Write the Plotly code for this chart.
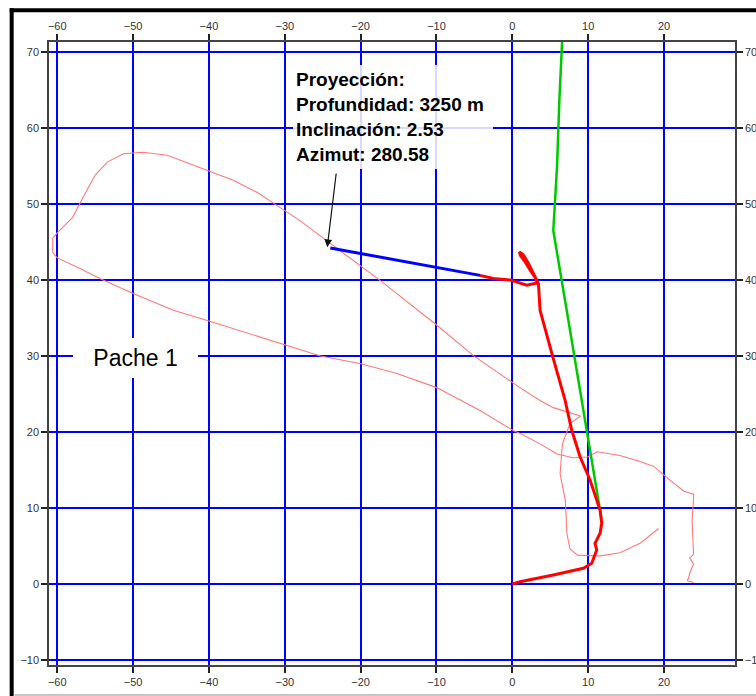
import plotly.graph_objects as go

# ---- data ----
thin_x = [19.3, 16.9, 14.2, 11.6, 8.6, 7.6, 7.2, 7.0, 6.3, 6.6, 7.6, 9.0, 5.4, 3.7, 1.05, -5.1, -9.9,
          -17.4, -24.0, -28.0, -31.5, -33.6, -36.8, -40.2, -42.9, -45.5, -48.7, -51.3, -53.4, -55.0,
          -56.1, -57.0, -58.0, -60.0, -60.6, -60.6, -60.0, -57.0, -54.4, -50.0, -44.7, -40.0, -30.6,
          -25.3, -20.1, -15.2, -9.9, -4.2, 0.1, 1.05, 3.7, 5.9, 8.0, 9.9, 11.2, 14.2, 16.5, 18.6,
          20.4, 22.6, 23.9, 23.9, 23.7, 23.8, 23.9, 23.4, 23.9, 23.5, 23.1, 23.9]
thin_y = [7.3, 5.4, 4.1, 3.7, 3.8, 4.6, 6.6, 10.9, 14.5, 18.4, 21.1, 22.1, 23.2, 24.1, 25.8, 30.0, 34.0,
          39.9, 44.8, 47.8, 50.1, 51.5, 53.1, 54.4, 55.5, 56.4, 56.8, 56.6, 55.5, 53.8,
          51.8, 50.1, 48.2, 46.2, 45.5, 43.6, 42.9, 41.5, 40.2, 38.2, 36.0, 34.6, 31.6,
          30.0, 29.0, 27.7, 25.8, 22.8, 20.2, 19.8, 18.4, 17.1, 16.6, 16.7, 17.4, 16.9, 16.2, 15.5,
          14.0, 12.2, 11.8, 11.3, 8.3, 5.0, 3.9, 3.4, 2.6, 1.7, 0.4, 0.2]

red_x = [0.0, 1.02, 5.41, 9.37, 10.47, 11.13, 10.9, 11.57, 11.79, 11.57, 10.25, 8.93, 7.83, 6.95,
         5.3, 3.66, 3.44, 2.78, 2.12, 1.46, 0.93, 1.11, 1.68, 2.34, 3.0, 3.3, 1.9, -0.3, -2.5, -4.25]
red_y = [0.0, 0.3, 1.18, 2.06, 2.72, 4.47, 5.35, 6.67, 7.98, 9.73, 13.68, 16.74, 20.25, 24.2,
         30.0, 36.0, 39.54, 40.86, 42.17, 43.27, 43.7, 43.13, 42.4, 41.3, 40.33, 39.6, 39.3, 40.0, 40.2, 40.6]

blue_x = [-24.0, -4.25]
blue_y = [44.2, 40.6]

green_x = [6.56, 6.2, 5.9, 5.4, 7.17, 9.2, 11.75]
green_y = [71.3, 63.6, 55.0, 46.5, 36.0, 24.0, 8.6]

x_ticks = [-60, -50, -40, -30, -20, -10, 0, 10, 20]
y_ticks = [-10, 0, 10, 20, 30, 40, 50, 60, 70]

label_text = "Pache 1"
proj_lines = ["Proyección:", "Profundidad: 3250 m", "Inclinación: 2.53", "Azimut: 280.58"]

XR = [-61.09, 29.36]
YR = [-10.66, 71.3]

fig = go.Figure()
fig.add_trace(go.Scatter(x=thin_x, y=thin_y, mode="lines",
                         line=dict(color="#FF7878", width=1.1), hoverinfo="skip"))
fig.add_trace(go.Scatter(x=green_x, y=green_y, mode="lines",
                         line=dict(color="#00C800", width=2.5), hoverinfo="skip"))
fig.add_trace(go.Scatter(x=red_x, y=red_y, mode="lines",
                         line=dict(color="#FF0000", width=3), hoverinfo="skip"))
fig.add_trace(go.Scatter(x=blue_x, y=blue_y, mode="lines",
                         line=dict(color="#0000FF", width=3), hoverinfo="skip"))
# invisible trace to carry the top/right axes
fig.add_trace(go.Scatter(x=[XR[0]], y=[YR[0]], xaxis="x2", yaxis="y2", mode="markers",
                         marker=dict(opacity=0), hoverinfo="skip"))

tickfont = dict(family="Liberation Sans, Arial, sans-serif", size=11, color="#333333")
common = dict(tickmode="array", ticks="outside", ticklen=6, tickwidth=1.5, tickcolor="#222222",
              showline=True, linecolor="#444444", linewidth=1.5, zeroline=False, tickfont=tickfont,
              automargin=False)

fig.update_layout(
    width=756, height=696,
    margin=dict(l=49, r=21, t=42, b=31, autoexpand=False),
    paper_bgcolor="white", plot_bgcolor="white",
    showlegend=False,
    xaxis=dict(range=XR, tickvals=x_ticks, showgrid=True, gridcolor="#0000FF", gridwidth=2, **common),
    yaxis=dict(range=YR, tickvals=y_ticks, showgrid=True, gridcolor="#0000FF", gridwidth=2, **common),
    xaxis2=dict(range=XR, tickvals=x_ticks, overlaying="x", side="top", anchor="y", showgrid=False, **common),
    yaxis2=dict(range=YR, tickvals=y_ticks, overlaying="y", side="right", anchor="x", showgrid=False, **common),
)

# page border lines (left/top thick black, bottom thin gray)
fig.add_shape(type="line", xref="paper", yref="paper", x0=-0.0544, x1=-0.0544, y0=1.054, y1=-0.05,
              line=dict(color="black", width=4))
fig.add_shape(type="line", xref="paper", yref="paper", x0=-0.0573, x1=1.04, y0=1.0509, y1=1.0509,
              line=dict(color="black", width=4))
fig.add_shape(type="line", xref="paper", yref="paper", x0=-0.05, x1=1.04, y0=-0.0481, y1=-0.0481,
              line=dict(color="#888888", width=1))

# Pache 1 label
fig.add_annotation(x=-49.7, y=29.72, xref="x", yref="y", text=label_text, showarrow=False,
                   font=dict(family="Liberation Sans, Arial, sans-serif", size=23, color="black"),
                   bgcolor="white", width=123, height=38, borderpad=1, borderwidth=0)

# projection text
fig.add_annotation(x=-28.9, y=68.3, xref="x", yref="y", xanchor="left", yanchor="top",
                   text="<br>".join("<b>%s</b>" % s for s in proj_lines), showarrow=False, align="left",
                   font=dict(family="Liberation Sans, Arial, sans-serif", size=19, color="black"),
                   bgcolor="rgba(255,255,255,0.85)", width=194, height=98, borderpad=3, borderwidth=0)

# arrow
fig.add_annotation(x=-24.4, y=44.3, ax=-23.2, ay=54.2, xref="x", yref="y", axref="x", ayref="y",
                   text="", showarrow=True, arrowhead=2, arrowsize=1.3, arrowwidth=1.2,
                   arrowcolor="#111111", standoff=0)

fig.write_html("out.html")
